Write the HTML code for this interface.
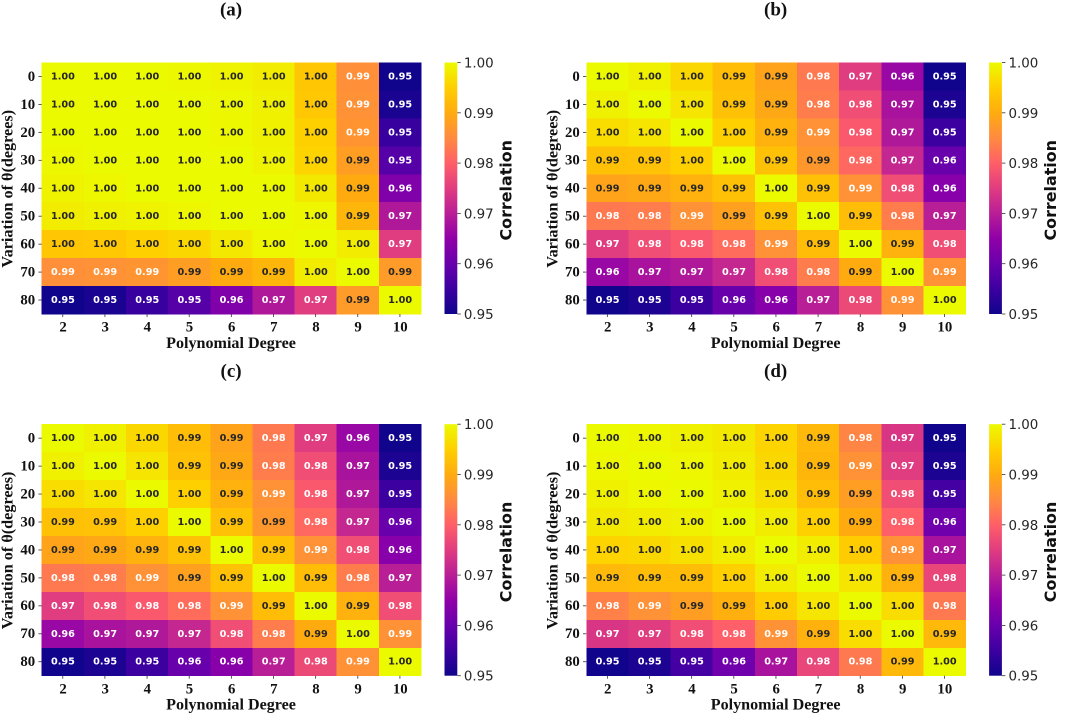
<!DOCTYPE html>
<html lang="en">
<head>
<meta charset="utf-8">
<title>Correlation heatmaps</title>
<style>
html,body{margin:0;padding:0;background:#fff;width:1065px;height:715px;overflow:hidden}
svg{display:block;filter:blur(.3px)}
.serif{font-family:"Liberation Serif",serif;font-weight:bold;fill:#111}
.dejavu{font-family:"DejaVu Sans",sans-serif}
</style>
</head>
<body>
<svg id="figure" xmlns="http://www.w3.org/2000/svg" width="1065" height="715" viewBox="0 0 1065 715"></svg>
<script>
const degrees = ['2','3','4','5','6','7','8','9','10'];
const angles = ['0','10','20','30','40','50','60','70','80'];
const colorbarTicks = [0.95,0.96,0.97,0.98,0.99,1.00];
const panelTitles = ['(a)','(b)','(c)','(d)'];
const xAxisTitle = 'Polynomial Degree';
const yAxisTitle = 'Variation of θ(degrees)';
const colorbarTitle = 'Correlation';

const valuesA = [
 [1,1,1,.9998,.9994,.9988,.9952,.9859,.9500],
 [1,1,1,1,.9998,.9992,.9954,.9862,.9506],
 [1,1,1,1,.9998,.9992,.9962,.9868,.9525],
 [.9998,1,1,1,1,.9994,.9965,.9885,.9544],
 [.9994,.9996,1,1,1,1,.9985,.9909,.9603],
 [.9988,.9992,.9994,.9996,1,1,.9996,.9927,.9676],
 [.9952,.9954,.9962,.9969,.9985,.9996,1,.9988,.9740],
 [.9859,.9862,.9868,.9885,.9909,.9927,.9988,1,.9880],
 [.9500,.9506,.9525,.9544,.9603,.9676,.9740,.9880,1]
];
const valuesB = [
 [1,.9992,.9969,.9938,.9897,.9828,.9740,.9645,.9500],
 [.9992,1,.9981,.9944,.9903,.9833,.9767,.9666,.9508],
 [.9973,.9981,1,.9962,.9921,.9862,.9783,.9676,.9528],
 [.9944,.9946,.9962,1,.9944,.9874,.9806,.9703,.9563],
 [.9897,.9903,.9921,.9944,1,.9944,.9862,.9767,.9617],
 [.9828,.9833,.9862,.9891,.9944,1,.9938,.9833,.9687],
 [.9740,.9767,.9783,.9811,.9862,.9938,1,.9921,.9767],
 [.9645,.9666,.9676,.9703,.9767,.9833,.9909,1,.9862],
 [.9500,.9508,.9528,.9563,.9617,.9687,.9761,.9862,1]
];
const valuesC = [
 [1,.9992,.9969,.9938,.9897,.9828,.9740,.9645,.9500],
 [.9992,1,.9981,.9944,.9903,.9833,.9767,.9666,.9508],
 [.9973,.9981,1,.9962,.9921,.9862,.9783,.9676,.9528],
 [.9944,.9946,.9962,1,.9944,.9874,.9806,.9703,.9563],
 [.9897,.9903,.9921,.9944,1,.9944,.9862,.9767,.9617],
 [.9828,.9833,.9862,.9891,.9944,1,.9938,.9833,.9687],
 [.9740,.9767,.9783,.9811,.9862,.9938,1,.9921,.9767],
 [.9645,.9666,.9676,.9703,.9767,.9833,.9909,1,.9862],
 [.9500,.9508,.9528,.9563,.9617,.9687,.9761,.9862,1]
];
const valuesD = [
 [1,.9996,.9992,.9985,.9965,.9932,.9844,.9729,.9500],
 [.9996,1,.9996,.9988,.9969,.9926,.9862,.9740,.9508],
 [.9992,.9996,1,.9992,.9977,.9938,.9885,.9767,.9533],
 [.9985,.9988,.9992,1,.9988,.9962,.9909,.9794,.9577],
 [.9965,.9969,.9977,.9988,1,.9988,.9958,.9862,.9666],
 [.9932,.9938,.9938,.9962,.9988,1,.9981,.9921,.9755],
 [.9839,.9862,.9885,.9915,.9958,.9981,1,.9973,.9828],
 [.9729,.9740,.9767,.9794,.9862,.9921,.9973,1,.9932],
 [.9500,.9508,.9533,.9577,.9666,.9755,.9828,.9932,1]
];

const plasmaStops = ['#10048c','#3c00a0','#6800ac','#9000a8','#b81e96','#e03c80','#ff5f68','#ff8a40','#ffab10','#ffcf00','#ecfa00'];
const normDomain = [.95,.955,.965,.975,.985,.995,1];
const normRange = [0,.18,.33,.52,.70,.87,1];

const NS = 'http://www.w3.org/2000/svg';
const figure = document.getElementById('figure');
const W = 379.3, H = 251.5, CBW = 12.8;

function hexRgb(h){return [1,3,5].map(i=>parseInt(h.substr(i,2),16));}
function plasma(t){
  t=Math.max(0,Math.min(1,t));
  const p=t*(plasmaStops.length-1), i=Math.min(Math.floor(p),plasmaStops.length-2), f=p-i;
  const a=hexRgb(plasmaStops[i]), b=hexRgb(plasmaStops[i+1]);
  return a.map((c,k)=>Math.round(c+(b[k]-c)*f));
}
function colorNorm(v){
  if(v<=normDomain[0]) return normRange[0];
  for(let i=1;i<normDomain.length;i++){
    if(v<=normDomain[i]){
      return normRange[i-1]+(v-normDomain[i-1])/(normDomain[i]-normDomain[i-1])*(normRange[i]-normRange[i-1]);
    }
  }
  return 1;
}
function textIsDark(v){
  return colorNorm(v)>=.74;
}
function make(tag,attrs,parent,text){
  const e=document.createElementNS(NS,tag);
  for(const k in attrs) e.setAttribute(k,attrs[k]);
  if(text!==undefined) e.textContent=text;
  parent.appendChild(e);
  return e;
}
function xBand(i,x0){return x0+i*W/degrees.length;}
function yBand(j,y0){return y0+j*H/angles.length;}
function cbarY(v,y0){return y0+H*(1-(v-colorbarTicks[0])/(colorbarTicks[colorbarTicks.length-1]-colorbarTicks[0]));}

const defs=make('defs',{},figure);
const grad=make('linearGradient',{id:'plasma-grad',x1:0,y1:1,x2:0,y2:0},defs);
plasmaStops.forEach((c,i)=>make('stop',{offset:i/(plasmaStops.length-1),'stop-color':c},grad));

function drawPanel(key,values,title,x0,y0,titleY){
  const g=make('g',{},figure);
  
  

  const t=make('text',{x:x0+W/2-.3,y:titleY,'text-anchor':'middle','font-size':19,class:'serif'},g,title);
  
  

  values.forEach((row,j)=>row.forEach((v,i)=>{
    const rgb=plasma(colorNorm(v));
    const r=make('rect',{x:xBand(i,x0),y:yBand(j,y0),width:W/degrees.length+.3,height:H/angles.length+.3,fill:'rgb('+rgb.join(',')+')','shape-rendering':'crispEdges'},g);
    
    
    const a=make('text',{x:xBand(i+.5,x0)+.2,y:yBand(j+.5,y0)+3,'text-anchor':'middle','font-size':9.7,'font-weight':'bold',class:'dejavu',fill:textIsDark(v)?'#262626':'#ffffff'},g,v.toFixed(2));
    
    
  }));

  degrees.forEach((d,i)=>{
    const cx=xBand(i+.5,x0);
    const tk=make('line',{x1:cx,x2:cx,y1:y0+H,y2:y0+H+3,stroke:'#333','stroke-width':.8},g);
    
    
    const l=make('text',{x:cx+.3,y:y0+H+17.7,'text-anchor':'middle','font-size':14.8,class:'serif'},g,d);
    
    
  });
  angles.forEach((a,j)=>{
    const cy=yBand(j+.5,y0);
    const tk=make('line',{x1:x0-3.3,x2:x0,y1:cy,y2:cy,stroke:'#333','stroke-width':.8},g);
    
    
    const l=make('text',{x:x0-6.5,y:cy+4.4,'text-anchor':'end','font-size':14.8,class:'serif'},g,a);
    
    
  });

  const xt=make('text',{x:x0+W/2-.3,y:y0+H+34,'text-anchor':'middle','font-size':16.1,class:'serif'},g,xAxisTitle);
  
  
  const yx=x0-29, yy=y0+H/2+.5;
  const yt=make('text',{x:yx,y:yy,'text-anchor':'middle','font-size':16.2,class:'serif',transform:'rotate(-90 '+yx+' '+yy+')'},g,yAxisTitle);
  
  

  const cbx=x0+W+23.5;
  const cb=make('rect',{x:cbx,y:y0,width:CBW,height:H,fill:'url(#plasma-grad)'},g);
  
  
  colorbarTicks.forEach(v=>{
    const cy=cbarY(v,y0);
    const tk=make('line',{x1:cbx+CBW,x2:cbx+CBW+3.5,y1:cy,y2:cy,stroke:'#333','stroke-width':.8},g);
    
    
    const l=make('text',{x:cbx+CBW+6.6,y:cy+5,'font-size':13.4,class:'dejavu',fill:'#262626'},g,v.toFixed(2));
    
    
  });
  const ctx=cbx+CBW+54, cty=y0+H/2+2;
  const ct=make('text',{x:ctx,y:cty,'text-anchor':'middle','font-size':15.9,'font-weight':'bold',class:'dejavu',fill:'#111',transform:'rotate(-90 '+ctx+' '+cty+')'},g,colorbarTitle);
  
  
}

drawPanel('a',valuesA,panelTitles[0],41.7,62.5,15.5);
drawPanel('b',valuesB,panelTitles[1],586.3,62.5,15.5);
drawPanel('c',valuesC,panelTitles[2],41.7,424.2,377);
drawPanel('d',valuesD,panelTitles[3],586.3,424.2,377);
</script>
</body>
</html>
